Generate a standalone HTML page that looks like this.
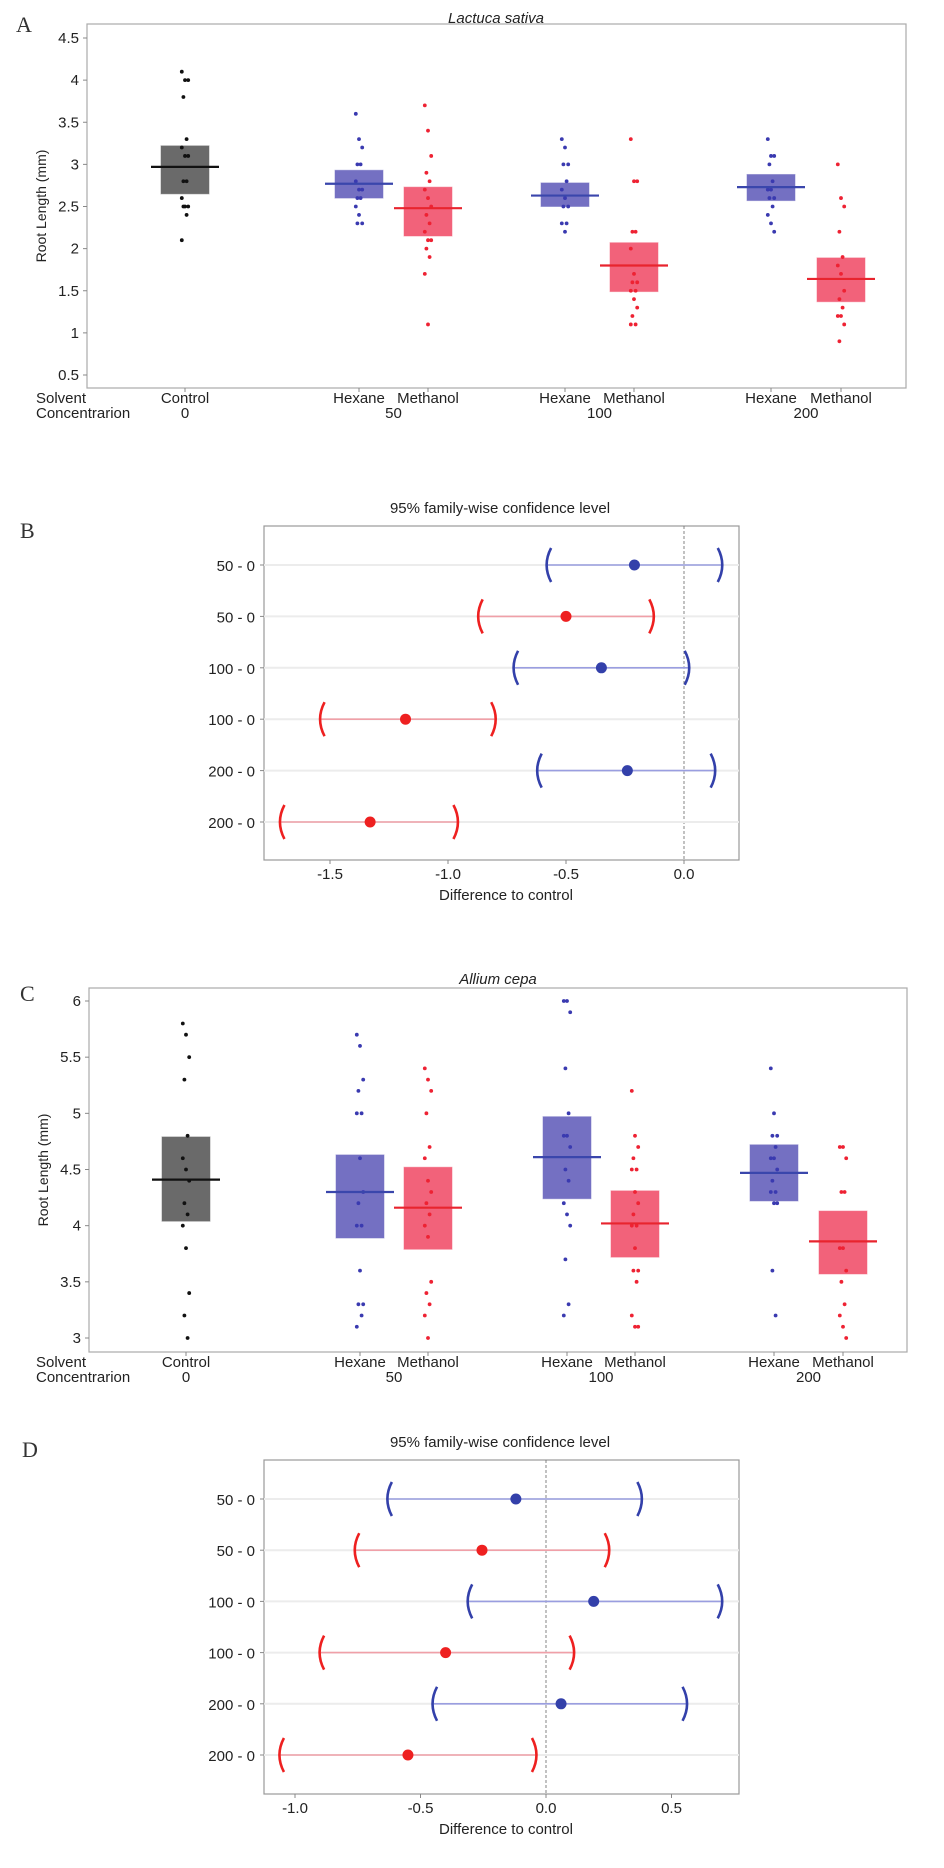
<!DOCTYPE html>
<html><head><meta charset="utf-8"><style>
html,body{margin:0;padding:0;background:#fff;}
svg{display:block;}
text{font-family:"Liberation Sans Narrow","Liberation Sans",sans-serif;fill:#222;}
.pl{font-family:"Liberation Serif",serif;font-size:22px;fill:#333;}
</style></head><body>
<svg id="fig" width="944" height="1868" viewBox="0 0 944 1868" xmlns="http://www.w3.org/2000/svg"></svg>
<script>
// ---------- Panel A data (Lactuca sativa) ----------
const groupLabels = ["Control","Hexane","Methanol","Hexane","Methanol","Hexane","Methanol"];
const concLabels = ["0","50","100","200"];
const groupColors = ["gray","blue","red","blue","red","blue","red"];
const aMeans = [2.97,2.77,2.48,2.63,1.80,2.73,1.64];
const aLow = [2.65,2.60,2.15,2.50,1.49,2.57,1.37];
const aHigh = [3.22,2.93,2.73,2.78,2.07,2.88,1.89];
const aPoints = [
 [4.1,4.0,4.0,3.8,3.3,3.2,3.1,3.1,2.8,2.8,2.6,2.5,2.5,2.5,2.4,2.1],
 [3.6,3.3,3.2,3.0,3.0,2.8,2.7,2.7,2.6,2.6,2.5,2.4,2.3,2.3],
 [3.7,3.4,3.1,2.9,2.8,2.7,2.6,2.5,2.4,2.3,2.2,2.1,2.1,2.0,1.9,1.7,1.1],
 [3.3,3.2,3.0,3.0,2.8,2.7,2.6,2.5,2.5,2.3,2.3,2.2],
 [3.3,2.8,2.8,2.2,2.2,2.0,1.7,1.6,1.6,1.5,1.5,1.4,1.3,1.2,1.1,1.1],
 [3.3,3.1,3.1,3.0,2.8,2.7,2.7,2.6,2.6,2.5,2.4,2.3,2.2],
 [3.0,2.6,2.5,2.2,1.9,1.8,1.7,1.5,1.4,1.3,1.2,1.2,1.1,0.9]
];
const aTicks = [0.5,1,1.5,2,2.5,3,3.5,4,4.5];
// ---------- Panel C data (Allium cepa) ----------
const cMeans = [4.41,4.30,4.16,4.61,4.02,4.47,3.86];
const cLow = [4.04,3.89,3.79,4.24,3.72,4.22,3.57];
const cHigh = [4.79,4.63,4.52,4.97,4.31,4.72,4.13];
const cPoints = [
 [5.8,5.7,5.5,5.3,4.8,4.6,4.5,4.4,4.2,4.1,4.0,3.8,3.4,3.2,3.0],
 [5.7,5.6,5.3,5.2,5.0,5.0,4.6,4.3,4.2,4.0,4.0,3.6,3.3,3.3,3.2,3.1],
 [5.4,5.3,5.2,5.0,4.7,4.6,4.4,4.3,4.2,4.1,4.0,3.9,3.5,3.4,3.3,3.2,3.0],
 [6.0,6.0,5.9,5.4,5.0,4.8,4.8,4.7,4.5,4.4,4.2,4.1,4.0,3.7,3.3,3.2],
 [5.2,4.8,4.7,4.6,4.5,4.5,4.3,4.2,4.1,4.0,4.0,3.8,3.6,3.6,3.5,3.2,3.1,3.1],
 [5.4,5.0,4.8,4.8,4.7,4.6,4.6,4.5,4.4,4.3,4.3,4.2,4.2,3.6,3.2],
 [4.7,4.7,4.6,4.3,4.3,3.8,3.8,3.6,3.5,3.3,3.2,3.1,3.0]
];
const cTicks = [3,3.5,4,4.5,5,5.5,6];
// ---------- Panel B data ----------
const ciLabels = ["50 - 0","50 - 0","100 - 0","100 - 0","200 - 0","200 - 0"];
const ciColors = ["blue","red","blue","red","blue","red"];
const bEst = [-0.21,-0.50,-0.35,-1.18,-0.24,-1.33];
const bLo = [-0.58,-0.87,-0.72,-1.54,-0.62,-1.71];
const bHi = [0.16,-0.13,0.02,-0.80,0.13,-0.96];
const bTicks = [-1.5,-1.0,-0.5,0.0];
const bTickLabels = ["-1.5","-1.0","-0.5","0.0"];
// ---------- Panel D data ----------
const dEst = [-0.12,-0.255,0.19,-0.40,0.06,-0.55];
const dLo = [-0.63,-0.76,-0.31,-0.90,-0.45,-1.06];
const dHi = [0.38,0.25,0.70,0.11,0.56,-0.04];
const dTicks = [-1.0,-0.5,0.0,0.5];
const dTickLabels = ["-1.0","-0.5","0.0","0.5"];

const NS="http://www.w3.org/2000/svg";
const svg=document.getElementById('fig');
function mk(tag,attrs,parent,txt){const e=document.createElementNS(NS,tag);for(const k in attrs)e.setAttribute(k,attrs[k]);if(txt!==undefined)e.textContent=txt;(parent||svg).appendChild(e);return e;}
const boxFill={gray:"#6a6a6a",blue:"#7470c2",red:"#f2627a"};
const lineCol={gray:"#111",blue:"#3a46ac",red:"#e8242e"};
const ptCol={gray:"#111",blue:"#3a3ab0",red:"#ee2233"};
const ciLine={blue:"#9a9ee0",red:"#f0a0a8"};
const ciDot={blue:"#3340aa",red:"#ee2020"};

function boxPanel(o){
  const g=mk('g',{});
  
  
  const y=v=>o.y0+(v-o.v0)*(o.y1-o.y0)/(o.v1-o.v0);
  const t=mk('text',{x:o.letterX,y:o.letterY,class:'pl'},g,o.letter);
  
  const ti=mk('text',{x:o.titleX,y:o.titleY,'text-anchor':'middle','font-size':15,'font-style':'italic'},g,o.title);
  
  const fr=mk('rect',{x:o.L,y:o.T,width:o.R-o.L,height:o.B-o.T,fill:'none',stroke:'#aaa','stroke-width':1.2},g);
  
  o.ticks.forEach(v=>{
    mk('line',{x1:o.L-4,x2:o.L,y1:y(v),y2:y(v),stroke:'#888'},g);
    const tl=mk('text',{x:o.L-8,y:y(v)+5,'text-anchor':'end','font-size':15},g,String(v));
    
  });
  const yl=mk('text',{x:0,y:0,'text-anchor':'middle','font-size':14,transform:`translate(${o.ylabX},${(o.T+o.B)/2}) rotate(-90)`,style:'font-family:"Liberation Sans",sans-serif'},g,'Root Length (mm)');
  
  const s1=mk('text',{x:36,y:o.rowY1,'font-size':15},g,'Solvent');
  
  const s2=mk('text',{x:36,y:o.rowY2,'font-size':15},g,'Concentrarion');
  
  o.xs.forEach((cx,i)=>{
    const c=groupColors[i];
    mk('line',{x1:cx,x2:cx,y1:o.B,y2:o.B+4,stroke:'#888'},g);
    const gl=mk('text',{x:cx,y:o.rowY1,'text-anchor':'middle','font-size':15},g,groupLabels[i]);
    
    const b=mk('rect',{x:cx-24,y:y(o.high[i]),width:48,height:y(o.low[i])-y(o.high[i]),fill:boxFill[c],stroke:boxFill[c],'stroke-opacity':0.5},g);
    
    o.pts[i].forEach((v,j)=>{
      const jit=((j*7)%5-2)*1.6;
      const p=mk('circle',{cx:cx+jit,cy:y(v),r:1.9,fill:ptCol[c]},g);
      
    });
    const m=mk('line',{x1:cx-34,x2:cx+34,y1:y(o.means[i]),y2:y(o.means[i]),stroke:lineCol[c],'stroke-width':2.2},g);
    
  });
  const cx=[o.xs[0],(o.xs[1]+o.xs[2])/2,(o.xs[3]+o.xs[4])/2,(o.xs[5]+o.xs[6])/2];
  concLabels.forEach((l,i)=>{
    const cl=mk('text',{x:cx[i],y:o.rowY2,'text-anchor':'middle','font-size':15},g,l);
    
  });
}
function bracket(g,x,y,open,col){
  const h=17,d=open?1:-1;
  mk('path',{d:`M${x+4*d},${y-h} Q${x-5*d},${y} ${x+4*d},${y+h}`,fill:'none',stroke:col,'stroke-width':2.6},g);
}
function ciPanel(o){
  const g=mk('g',{});
  
  
  const x=v=>o.x0+(v-o.v0)*(o.x1-o.x0)/(o.v1-o.v0);
  const t=mk('text',{x:o.letterX,y:o.letterY,class:'pl'},g,o.letter);
  
  const ti=mk('text',{x:500,y:o.titleY,'text-anchor':'middle','font-size':15},g,'95% family-wise confidence level');
  
  const fr=mk('rect',{x:264,y:o.T,width:475,height:o.B-o.T,fill:'none',stroke:'#999','stroke-width':1.2},g);
  
  const n=ciLabels.length, rowY=i=>o.r0+i*(o.r1-o.r0)/(n-1);
  mk('line',{x1:x(0),x2:x(0),y1:o.T,y2:o.B,stroke:'#777','stroke-dasharray':'3,2','stroke-width':0.9},g);
  o.ticks.forEach((v,i)=>{
    mk('line',{x1:x(v),x2:x(v),y1:o.B,y2:o.B+4,stroke:'#888'},g);
    const tl=mk('text',{x:x(v),y:o.B+19,'text-anchor':'middle','font-size':15},g,o.tickLabels[i]);
    
  });
  const xt=mk('text',{x:506,y:o.B+40,'text-anchor':'middle','font-size':15},g,'Difference to control');
  
  ciLabels.forEach((l,i)=>{
    const yy=rowY(i),c=ciColors[i];
    mk('line',{x1:264,x2:739,y1:yy,y2:yy,stroke:'#ececec','stroke-width':2},g);
    mk('line',{x1:260,x2:264,y1:yy,y2:yy,stroke:'#888'},g);
    const rl=mk('text',{x:255,y:yy+6,'text-anchor':'end','font-size':15},g,l);
    
    const ln=mk('line',{x1:x(o.lo[i]),x2:x(o.hi[i]),y1:yy,y2:yy,stroke:ciLine[c],'stroke-width':1.6},g);
    
    bracket(g,x(o.lo[i]),yy,true,ciDot[c]);
    bracket(g,x(o.hi[i]),yy,false,ciDot[c]);
    const d=mk('ellipse',{cx:x(o.est[i]),cy:yy,rx:5.5,ry:5.5,fill:ciDot[c]},g);
    
  });
}
const xsA=[185,359,428,565,634,771,841];
boxPanel({name:'panel-a-lactuca',letter:'A',letterX:16,letterY:32,title:'Lactuca sativa',titleX:496,titleY:23,
  L:87,R:906,T:24,B:388,y0:38,v0:4.5,y1:375,v1:0.5,ticks:aTicks,ylabX:46,rowY1:403,rowY2:418,
  xs:xsA,means:aMeans,low:aLow,high:aHigh,pts:aPoints});
ciPanel({name:'panel-b-tukey',letter:'B',letterX:20,letterY:538,titleY:513,T:526,B:860,
  x0:330,v0:-1.5,x1:684,v1:0.0,r0:565,r1:822,ticks:bTicks,tickLabels:bTickLabels,est:bEst,lo:bLo,hi:bHi});
const xsC=[186,360,428,567,635,774,843];
boxPanel({name:'panel-c-allium',letter:'C',letterX:20,letterY:1001,title:'Allium cepa',titleX:498,titleY:984,
  L:89,R:907,T:988,B:1352,y0:1001,v0:6,y1:1338,v1:3,ticks:cTicks,ylabX:48,rowY1:1367,rowY2:1382,
  xs:xsC,means:cMeans,low:cLow,high:cHigh,pts:cPoints});
ciPanel({name:'panel-d-tukey',letter:'D',letterX:22,letterY:1457,titleY:1447,T:1460,B:1794,
  x0:295,v0:-1.0,x1:546,v1:0.0,r0:1499,r1:1755,ticks:dTicks,tickLabels:dTickLabels,est:dEst,lo:dLo,hi:dHi});
</script>
</body></html>
